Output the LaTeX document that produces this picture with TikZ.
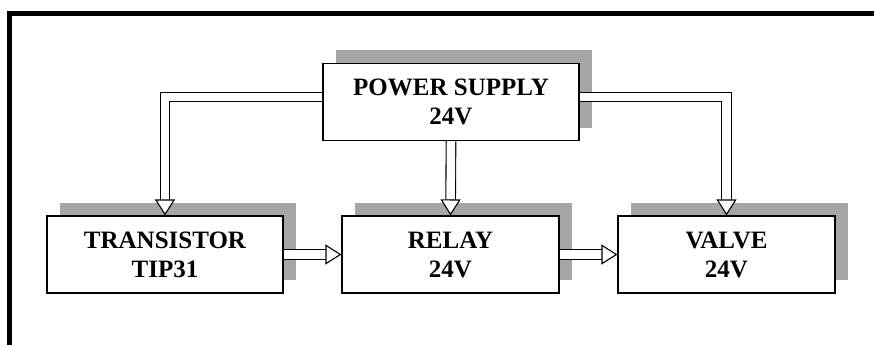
\documentclass[tikz,border=0pt]{standalone}
\usepackage{fontspec}
\setmainfont{Liberation Serif}
\usetikzlibrary{arrows.meta,shadows}
\tikzset{
  blok/.style={draw, line width=1.2pt, fill=white, align=center,
    minimum height=77pt,
    font=\bfseries\fontsize{25}{29}\selectfont,
    drop shadow={shadow xshift=12.5pt, shadow yshift=13pt,
      fill=black!35, opacity=1}},
  flow/.style={draw, double, double distance=8.5pt, line width=1.1pt,
    -{Triangle[fill=white, length=16pt, width=20pt]}}
}
\begin{document}
\begin{tikzpicture}[x=1pt,y=-1pt]
\useasboundingbox (0,0) rectangle (874,345);
% frame
\draw[line width=5pt] (9.5,345) -- (9.5,13.5) -- (874,13.5);
% blocks
\node[blok, minimum width=256pt] (supply) at (451,102) {POWER SUPPLY\\24V};
\node[blok, minimum width=236pt] (transistor) at (165,254.5) {TRANSISTOR\\TIP31};
\node[blok, minimum width=217pt] (relay) at (450.5,254.5) {RELAY\\24V};
\node[blok, minimum width=217pt] (valve) at (726.5,254.5) {VALVE\\24V};
% connections
\draw[flow] ([yshift=5pt]supply.west) -| (transistor.north);
\draw[flow] ([yshift=5pt]supply.east) -| (valve.north);
\draw[flow] (supply.south) -- (relay.north);
\draw[flow] (transistor.east) -- (relay.west);
\draw[flow] (relay.east) -- (valve.west);
\end{tikzpicture}
\end{document}
